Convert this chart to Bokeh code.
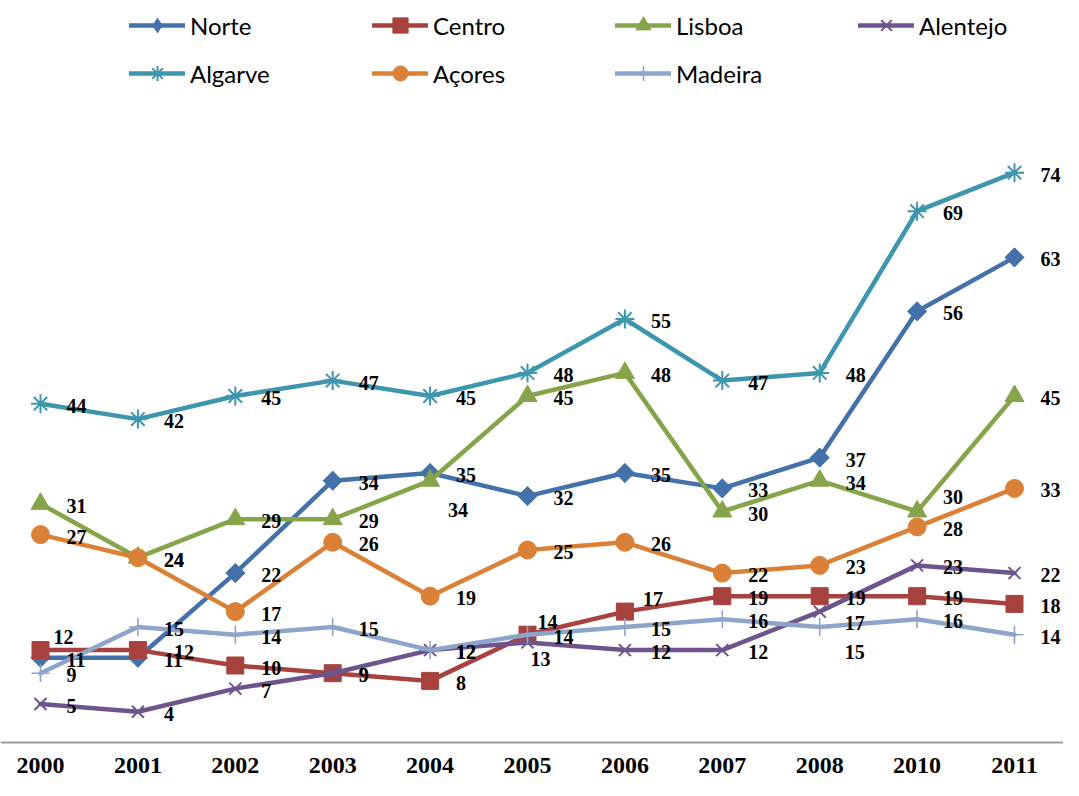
import math
from bokeh.plotting import figure
from bokeh.models import Range1d, Span, ColumnDataSource, Legend, LegendItem
from bokeh.core.properties import value
from bokeh.embed import file_html
from bokeh.resources import INLINE

years = ["2000", "2001", "2002", "2003", "2004", "2005", "2006", "2007", "2008", "2010", "2011"]

series_names = ["Norte", "Centro", "Lisboa", "Alentejo", "Algarve", "Açores", "Madeira"]
norte = [11, 11, 22, 34, 35, 32, 35, 33, 37, 56, 63]
centro = [12, 12, 10, 9, 8, 14, 17, 19, 19, 19, 18]
lisboa = [31, 24, 29, 29, 34, 45, 48, 30, 34, 30, 45]
alentejo = [5, 4, 7, 9, 12, 13, 12, 12, 17, 23, 22]
algarve = [44, 42, 45, 47, 45, 48, 55, 47, 48, 69, 74]
acores = [27, 24, 17, 26, 19, 25, 26, 22, 23, 28, 33]
madeira = [9, 15, 14, 15, 12, 14, 15, 16, 15, 16, 14]

# styling
colors = ["#4471AA", "#A8423F", "#86A44A", "#6E548D", "#3D96AE", "#DA8137", "#8EA5CB"]
markers = ["square", "square", "triangle", "x", "asterisk", "circle", "cross"]
legend_markers = ["diamond", "square", "triangle", "x", "asterisk", "circle", "cross"]
marker_sizes = [13.5, 17, 19, 17, 19, 18, 18]
marker_angles = [math.pi / 4, 0, 0, 0, 0, 0, 0]
marker_lw = [1, 1, 1, 2, 2, 1, 1.6]
outline_only = [False, False, False, True, True, False, True]

# data label placement (pixels): default and per-point adjustments
label_dx, label_dy = 26, 2
label_adjust = {
    ("Centro", 0): (13, -13),
    ("Centro", 1): (36, 2),
    ("Centro", 5): (10, -13),
    ("Centro", 6): (18, -13),
    ("Lisboa", 4): (18, 29),
    ("Lisboa", 9): (26, -15),
    ("Alentejo", 5): (3, 17),
    ("Alentejo", 8): (25, 11),
    ("Madeira", 8): (25, 25),
}

all_values = [norte, centro, lisboa, alentejo, algarve, acores, madeira]
xi = list(range(len(years)))

W, H = 1063, 780
px_per_x = 97.4
x0_px = 40
zero_px = 742
px_per_y = 7.7

p = figure(width=W, height=H, output_backend="svg", toolbar_location=None,
           x_range=Range1d(-x0_px / px_per_x, (W - x0_px) / px_per_x),
           y_range=Range1d(-(H - zero_px) / px_per_y, zero_px / px_per_y),
           x_axis_location=None, y_axis_location=None,
           min_border=0, outline_line_color=None)
p.xgrid.visible = False
p.ygrid.visible = False

p.add_layout(Span(location=0, dimension="width", line_color="#9d9d9d", line_width=2))

items = []
label_sources = []
for k, (name, vals) in enumerate(zip(series_names, all_values)):
    src = ColumnDataSource(dict(x=xi, y=vals))
    ln = p.line("x", "y", source=src, line_color=colors[k], line_width=4.5,
                line_join="round", line_cap="round")
    fill = None if outline_only[k] else colors[k]
    leg_r = None
    if legend_markers[k] != markers[k]:
        # legend marker shape, drawn hidden underneath the plot marker
        leg_r = p.scatter("x", "y", source=src, marker=legend_markers[k],
                          size=marker_sizes[k] * 1.38, line_color=colors[k],
                          fill_color=fill, line_width=0.5)
    sc = p.scatter("x", "y", source=src, marker=markers[k], size=marker_sizes[k],
                   angle=marker_angles[k], line_color=colors[k], fill_color=fill,
                   line_width=marker_lw[k])
    items.append(LegendItem(label=name, renderers=[ln, leg_r if leg_r is not None else sc]))
    dxs, dys = [], []
    for i in xi:
        dx, dy = label_adjust.get((name, i), (label_dx, label_dy))
        dxs.append(dx)
        dys.append(dy)
    label_sources.append(ColumnDataSource(dict(x=xi, y=vals, t=[str(v) for v in vals],
                                               dx=dxs, dy=dys)))

for src in label_sources:
    p.text("x", "y", text="t", source=src, x_offset="dx", y_offset="dy",
           text_font=value("Liberation Serif"), text_font_style="bold",
           text_font_size="20px", text_color="#000000",
           text_align="left", text_baseline="middle")

ysrc = ColumnDataSource(dict(x=xi, y=[0] * len(xi), t=years))
p.text("x", "y", text="t", source=ysrc, y_offset=23,
       text_font=value("Liberation Serif"), text_font_style="bold",
       text_font_size="24px", text_color="#000000",
       text_align="center", text_baseline="middle")

legend = Legend(items=items, location=(129, 688), orientation="horizontal", ncols=4,
                glyph_width=56, glyph_height=38, label_height=38, label_width=172,
                label_standoff=5, spacing=10, padding=0, margin=0,
                border_line_color=None, background_fill_alpha=0,
                label_text_font="Lato", label_text_font_size="24px",
                label_text_color="#000000")
p.add_layout(legend)

open("out.html", "w").write(file_html(p, INLINE))
